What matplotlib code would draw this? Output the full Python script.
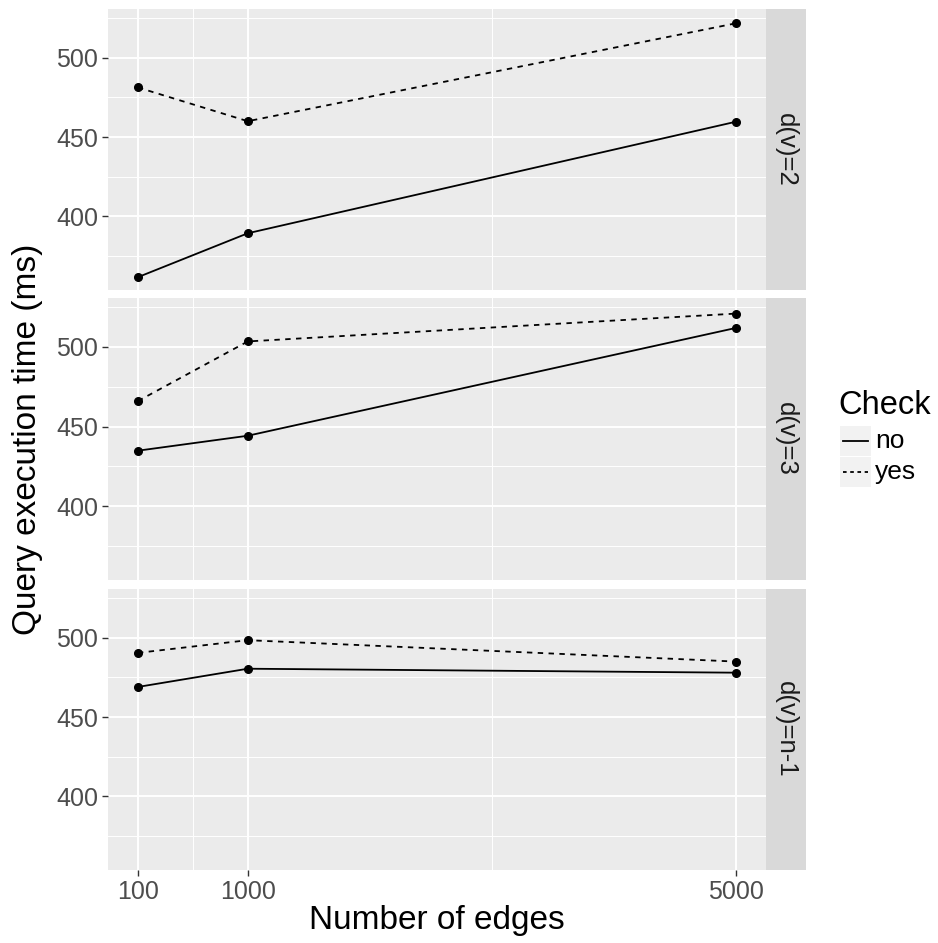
import matplotlib
matplotlib.use("Agg")
import matplotlib.pyplot as plt
from matplotlib.patches import Rectangle
from matplotlib.lines import Line2D

plt.rcParams['font.family'] = ['Liberation Sans', 'DejaVu Sans']

edges = [100, 1000, 5000]
facets = ["d(v)=2", "d(v)=3", "d(v)=n-1"]
no_vals = [
    [361.6, 389.3, 459.7],
    [434.8, 444.2, 512.0],
    [469.0, 480.5, 478.0],
]
yes_vals = [
    [481.3, 460.0, 521.8],
    [466.0, 503.5, 521.0],
    [490.5, 498.5, 485.0],
]
check_labels = ["no", "yes"]
x_ticks = [100, 1000, 5000]
x_minor = [550, 3000]
y_ticks = [400, 450, 500]
y_minor = [375, 425, 475, 525]

W, H = 938, 943
fig = plt.figure(figsize=(W / 100, H / 100), dpi=100)

def px_rect(x0, y0, x1, y1):
    return [x0 / W, 1 - y1 / H, (x1 - x0) / W, (y1 - y0) / H]

panels = [(9, 290), (298, 580), (589, 870)]
left, right, strip_r = 108, 766, 806
bg = '#EBEBEB'
xr = (100 - 0.05 * 4900, 5000 + 0.05 * 4900)
yr = (353.5, 530.8)

for i, (t, b) in enumerate(panels):
    ax = fig.add_axes(px_rect(left, t, right, b))
    ax.set_facecolor(bg)
    ax.set_xlim(*xr)
    ax.set_ylim(*yr)
    for s in ax.spines.values():
        s.set_visible(False)
    ax.set_xticks(x_ticks)
    ax.set_xticks(x_minor, minor=True)
    ax.set_yticks(y_ticks)
    ax.set_yticks(y_minor, minor=True)
    ax.grid(True, which='major', color='white', linewidth=1.4)
    ax.grid(True, which='minor', color='white', linewidth=0.7)
    ax.set_axisbelow(True)
    ax.tick_params(which='minor', length=0)
    ax.tick_params(which='major', length=4, width=1.0, color='#333333',
                   labelcolor='#4D4D4D', labelsize=18, pad=3)
    ax.set_yticklabels([str(v) for v in y_ticks])
    if i < 2:
        ax.tick_params(axis='x', which='major', length=0, labelbottom=False)
    else:
        ax.set_xticklabels([str(v) for v in x_ticks])
    ax.plot(edges, no_vals[i], color='black', linewidth=1.3, linestyle='-',
            marker='o', markersize=5.5, zorder=3)
    ax.plot(edges, yes_vals[i], color='black', linewidth=1.3, linestyle=(0, (3, 3)),
            marker='o', markersize=5.5, zorder=3)
    # strip
    sax = fig.add_axes(px_rect(right, t, strip_r, b))
    sax.set_facecolor('#D9D9D9')
    sax.set_xticks([]); sax.set_yticks([])
    for s in sax.spines.values():
        s.set_visible(False)
    sax.text(0.5, 0.5, facets[i], rotation=-90, ha='center', va='center',
             fontsize=18.5, color='#1A1A1A', transform=sax.transAxes)

# overlay for titles / legend in pixel coordinates
ov = fig.add_axes([0, 0, 1, 1])
ov.set_xlim(0, W); ov.set_ylim(H, 0)
ov.axis('off')
ov.text((left + right) / 2, 921, "Number of edges", ha='center', va='center',
        fontsize=24, color='black')
ov.text(28, (9 + 870) / 2, "Query execution time (ms)", ha='center', va='center',
        rotation=90, fontsize=24, color='black')
ov.text(838, 406, "Check", ha='left', va='center', fontsize=23.5, color='black')
for j, (lab, ls) in enumerate(zip(check_labels, ['-', (0, (2, 2))])):
    y0 = 426 + j * 31
    ov.add_patch(Rectangle((840, y0), 31, 30, facecolor='#F2F2F2', edgecolor='none'))
    ov.add_line(Line2D([843, 868], [y0 + 15, y0 + 15], color='black', linewidth=1.3,
                       linestyle=ls))
    ov.text(875, y0 + 15, lab, ha='left', va='center', fontsize=19, color='black')

fig.savefig("out.png", dpi=100, facecolor='white')
